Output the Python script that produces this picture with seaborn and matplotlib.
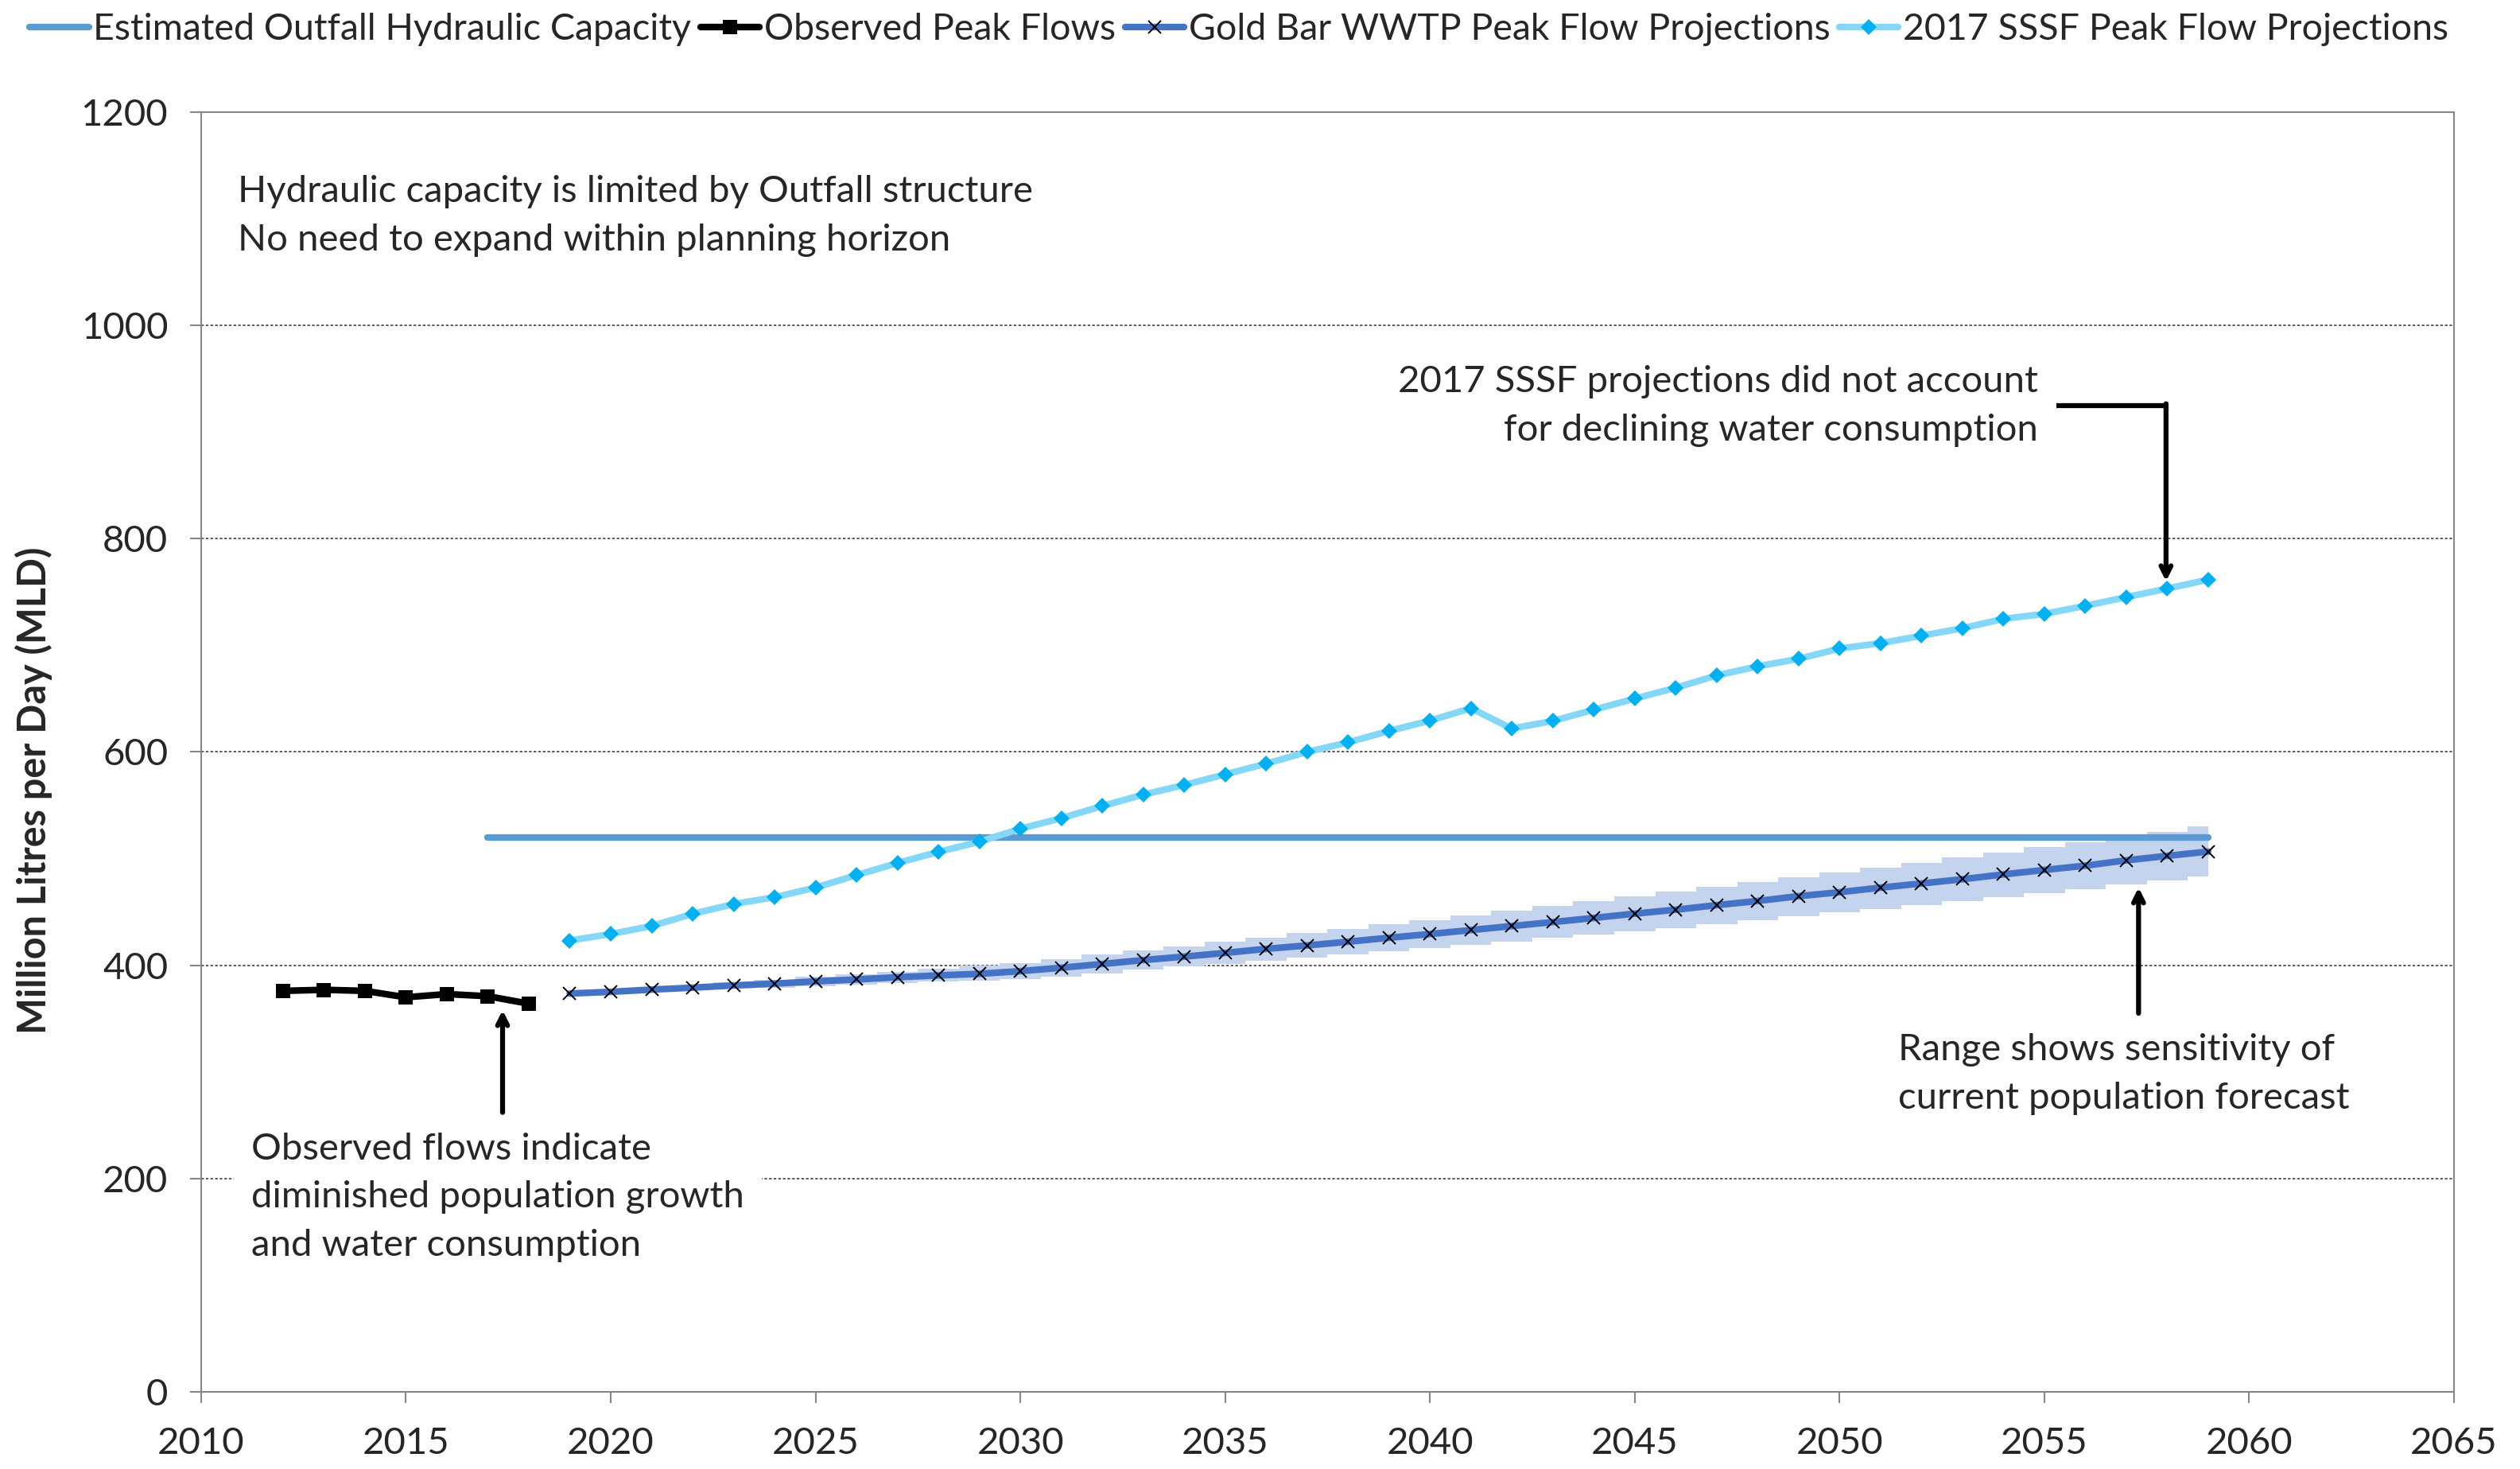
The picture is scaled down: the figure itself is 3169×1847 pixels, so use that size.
import numpy as np
import pandas as pd
import matplotlib
matplotlib.use("Agg")
import matplotlib.pyplot as plt
import seaborn as sns

# ---------------- data ----------------
capacity_years = [2017, 2059]
capacity_values = [520, 520]

observed_years = [2012, 2013, 2014, 2015, 2016, 2017, 2018]
observed_values = [376, 377, 376, 370, 373, 371, 364]

proj_years = list(range(2019, 2060))
goldbar_values = [373.5, 375.1, 377.2, 379.0, 381.1, 382.8, 384.9, 386.7, 388.8, 390.5,
                  392.0, 394.5, 397.7, 401.2, 404.9, 408.1, 411.6, 415.4, 418.6, 422.1,
                  425.8, 429.3, 433.0, 436.8, 440.5, 444.4, 448.4, 452.1, 456.4, 460.3,
                  464.8, 468.5, 472.8, 476.7, 480.7, 485.2, 489.4, 493.4, 498.4, 502.6,
                  506.6]
goldbar_low = [373.0, 374.5, 376.3, 377.5, 378.2, 378.8, 380.3, 381.6, 383.5, 384.5,
               385.8, 387.3, 389.5, 392.5, 395.7, 399.2, 401.4, 404.4, 407.4, 410.1,
               413.1, 416.1, 419.3, 422.3, 425.5, 428.8, 432.0, 435.0, 438.7, 442.2,
               445.7, 449.4, 452.9, 456.6, 460.3, 464.1, 467.8, 471.5, 475.5, 479.5,
               483.5]
goldbar_high = [374.0, 375.7, 378.0, 381.4, 384.0, 386.5, 389.3, 391.3, 394.0, 396.7,
                399.4, 402.2, 405.9, 409.9, 413.6, 417.6, 421.8, 425.8, 430.0, 434.0,
                438.5, 442.4, 446.7, 451.2, 455.6, 460.1, 464.6, 469.3, 473.5, 477.8,
                482.5, 487.0, 491.7, 496.1, 500.9, 505.6, 510.6, 515.3, 520.0, 525.2,
                530.2]
sssf_values = [423.2, 429.3, 436.8, 448.2, 457.4, 463.8, 472.8, 484.5, 495.9, 506.3,
               515.8, 528.0, 537.9, 549.3, 560.0, 569.0, 579.0, 589.0, 600.0, 609.0,
               619.7, 629.4, 641.0, 621.9, 629.1, 639.6, 650.0, 660.2, 671.7, 680.3,
               687.3, 697.0, 702.0, 709.0, 716.0, 724.8, 729.5, 737.0, 745.2, 753.2,
               761.6]

series_labels = ["Estimated Outfall Hydraulic Capacity", "Observed Peak Flows",
                 "Gold Bar WWTP Peak Flow Projections", "2017 SSSF Peak Flow Projections"]
y_ticks = [0, 200, 400, 600, 800, 1000, 1200]
x_ticks = list(range(2010, 2066, 5))

# ---------------- style ----------------
sns.set_style("white")
plt.rcParams["font.family"] = ["Lato", "DejaVu Sans"]
FS = 34

fig = plt.figure(figsize=(31.69, 18.47), dpi=100)
ax = fig.add_axes([0.0798, 0.0525, 0.8940, 0.8712])

# sensitivity band
ax.fill_between(proj_years, goldbar_low, goldbar_high, step="mid",
                color="#c5d4ee", linewidth=0, zorder=1)

sns.lineplot(x=capacity_years, y=capacity_values, ax=ax, color="#5b9bd5",
             linewidth=6, solid_capstyle="round", label=series_labels[0], zorder=3)
sns.lineplot(x=observed_years, y=observed_values, ax=ax, color="black",
             linewidth=6, marker="s", markersize=13, markeredgewidth=0,
             label=series_labels[1], zorder=4)
sns.lineplot(x=proj_years, y=goldbar_values, ax=ax, color="#4472c4",
             linewidth=6, marker="x", markersize=12, markeredgecolor="black",
             markeredgewidth=1.4, label=series_labels[2], zorder=4)
sns.lineplot(x=proj_years, y=sssf_values, ax=ax, color="#84d7f7",
             linewidth=6, marker="D", markersize=10.5, markerfacecolor="#00b0f0",
             markeredgecolor="#00b0f0", markeredgewidth=0,
             label=series_labels[3], zorder=4)

ax.set_xlim(2010, 2065)
ax.set_ylim(0, 1200)
ax.set_xticks(x_ticks)
ax.set_yticks(y_ticks)
ax.tick_params(axis="both", labelsize=FS, length=10, width=1.5, color="#868686",
               direction="out")
ax.tick_params(axis="x", pad=22)
ax.tick_params(axis="y", pad=20)
ax.tick_params(left=True, bottom=True)
for s in ax.spines.values():
    s.set_color("#868686")
    s.set_linewidth(1.5)
ax.yaxis.grid(True, linestyle=(0, (2.2, 1.6)), color="#303030", linewidth=1.1)
ax.xaxis.grid(False)
ax.set_xlabel("")
ax.set_ylabel("Million Litres per Day (MLD)", fontsize=35, fontweight="bold")
ax.yaxis.set_label_coords(-0.066, 0.47)

# legend
leg = ax.legend(loc="upper left", bbox_to_anchor=(0.0095, 0.995), bbox_transform=fig.transFigure,
                ncol=4, frameon=False, fontsize=33.5, handlelength=1.6, handletextpad=0.12,
                columnspacing=0.25, borderaxespad=0.0, borderpad=0.15)

# annotations
TF = 34
LS = 1.55
ax.text(2010.90, 1102.8, "Hydraulic capacity is limited by Outfall structure\nNo need to expand within planning horizon",
        fontsize=TF, va="center", ha="left", linespacing=LS)
ax.text(2054.84, 924.2, "2017 SSSF projections did not account\nfor declining water consumption",
        fontsize=TF, va="center", ha="right", linespacing=LS)
ax.text(2051.43, 297.8, "Range shows sensitivity of\ncurrent population forecast",
        fontsize=TF, va="center", ha="left", linespacing=LS)
ax.text(2011.22, 182.4, "Observed flows indicate\ndiminished population growth\nand water consumption",
        fontsize=TF, va="center", ha="left", linespacing=LS, zorder=5,
        bbox=dict(facecolor="white", edgecolor="none", pad=16))

arrow_kw = dict(arrowstyle="->,head_length=0.9,head_width=0.45", color="black", lw=4.5,
                shrinkA=0, shrinkB=0)
# elbow arrow to SSSF
ax.plot([2055.3, 2057.97], [924.7, 924.7], color="black", lw=4.5, solid_capstyle="butt")
ax.annotate("", xy=(2057.97, 760), xytext=(2057.97, 926.5), arrowprops=arrow_kw)
# range arrow
ax.annotate("", xy=(2057.3, 473), xytext=(2057.3, 355), arrowprops=arrow_kw)
# observed arrow
ax.annotate("", xy=(2017.36, 358), xytext=(2017.36, 262), arrowprops=arrow_kw)

fig.savefig("out.png", dpi=100, facecolor="white")
